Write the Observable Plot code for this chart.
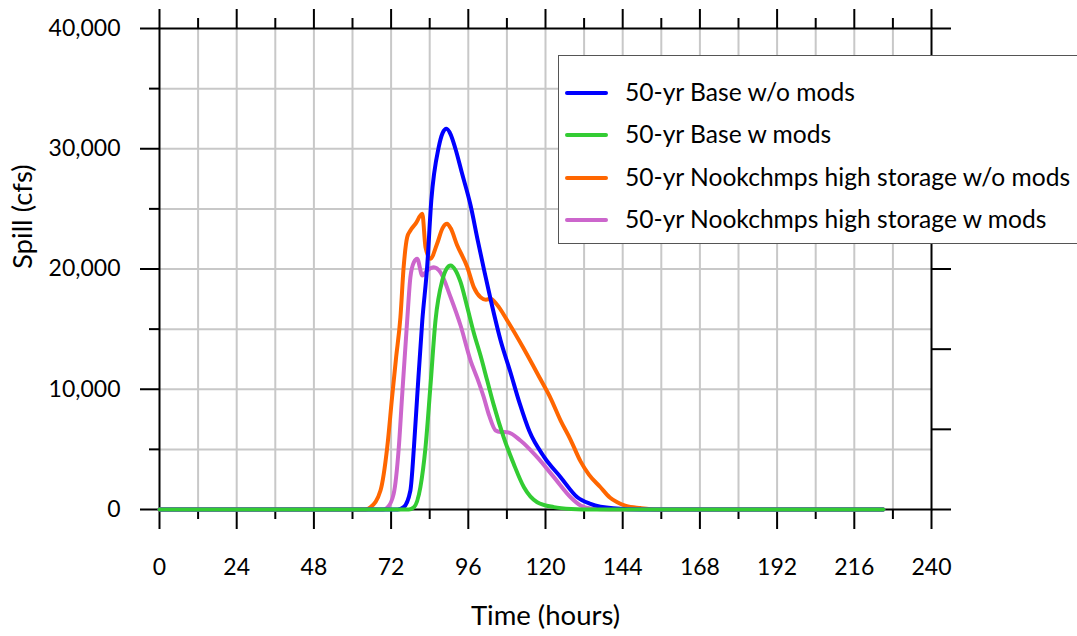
<!DOCTYPE html>
<html>
<head>
<meta charset="utf-8">
<script src="https://cdn.jsdelivr.net/npm/d3@7"></script>
<script src="https://cdn.jsdelivr.net/npm/@observablehq/plot@0.6"></script>
<style>
  body { margin: 0; background: #fff; overflow: hidden; font-family: Lato, sans-serif; }
  #wrap { position: relative; width: 1077px; height: 636px; overflow: hidden; }
  #legend { position: absolute; left: 558px; top: 55px; width: 560px; height: 189px;
            border: 1.5px solid #555; background: #fff; box-sizing: border-box; }
  .sw { position: absolute; left: 6px; width: 43px; height: 4px; border-radius: 2px; transform: translateY(-50%); }
  .lab { position: absolute; left: 66px; font-size: 24.6px; line-height: 1; white-space: nowrap; color: #000;
         transform: translateY(-54%); font-family: Lato, sans-serif; }
</style>
</head>
<body>
<div id="wrap"></div>
<script>
// ---- data (hours, spill cfs) ----
const seriesNames = [
  "50-yr Base w/o mods",
  "50-yr Base w mods",
  "50-yr Nookchmps high storage w/o mods",
  "50-yr Nookchmps high storage w mods"
];
const seriesColors = ["#0000ff", "#33cc33", "#ff6600", "#cc66cc"];

const blueT = [0,74,75.9,78,79.1,80.1,81.7,83.2,84.5,86.8,88,89.2,90.5,92,94,96.7,99,101,103,106,109,112,115,119.5,124.7,129.9,134,141,150,225];
const blueV = [0,0,190,1580,5180,9340,15720,20150,25700,30130,31300,31660,31200,30000,28000,25300,22300,19800,17400,14100,11500,8800,6500,4400,2690,1020,470,100,0,0];

const greenT = [0,77.5,79.1,81.1,82.7,84.2,85.8,87.9,89.2,90.5,92,93.6,95.7,97.7,99.8,101.9,103.9,107,110.1,113.3,117.4,122.6,128,135,225];
const greenV = [0,0,190,1850,5180,10170,15720,19040,20000,20290,19900,18900,16800,14700,12800,10700,8700,6000,3800,1850,610,200,50,0,0];

const orangeT = [0,64,65.6,68.7,70.8,72.3,73.5,74.9,75.9,77,78,79.6,81.7,82.7,84.2,86.3,88,89.4,90.5,92.5,95.7,97.7,99.8,101.5,102.9,105,108.1,113.3,118.4,121.6,124.7,127.8,130.9,133.5,137.1,140,142.3,145,149.5,155,225];
const orangeV = [0,0,190,1580,5180,9340,12500,16000,20150,22640,23200,23760,24590,21810,20850,22100,23400,23760,23400,22000,20150,18490,17650,17450,17520,17000,15720,13350,10850,9250,7400,5800,4000,2900,1850,1000,600,300,120,0,0];

const pinkT = [0,69.5,70.8,72.8,74.4,75.4,77,78,79.1,80.1,81.7,83.2,85.3,87.4,90.5,93.6,96.7,98.8,100.8,102.5,104.5,106,108.1,112.2,117.4,122.6,127.8,130.9,134,140,225];
const pinkV = [0,0,150,1300,5180,9340,15720,19320,20570,20850,19460,19880,20150,19700,17650,15300,12390,10900,9340,7800,6570,6450,6430,5740,4350,2690,1020,330,80,0,0];

// ---- ticks ----
const xMajor = [0,24,48,72,96,120,144,168,192,216,240];
const xMinor = [12,36,60,84,108,132,156,180,204,228];
const xGrid  = [12,24,36,48,60,72,84,96,108,120,132,144,156,168,180,192,204,216,228];
const yMajor = [0,10000,20000,30000,40000];
const yMinor = [5000,15000,25000,35000];
const yGrid  = [5000,10000,15000,20000,25000,30000,35000];
const yRight = [0,6666.67,13333.33,20000,26666.67,33333.33,40000];

const toRows = (T, V) => T.map((t, i) => ({t, v: V[i]}));
const blue = toRows(blueT, blueV), green = toRows(greenT, greenV),
      orange = toRows(orangeT, orangeV), pink = toRows(pinkT, pinkV);

const noText = () => "";
const lineOpts = (c) => ({x: "t", y: "v", stroke: c, strokeWidth: 4, curve: "monotone-x", strokeLinejoin: "round", strokeLinecap: "round"});

const chart = Plot.plot({
  width: 1077, height: 636,
  marginLeft: 159, marginRight: 146, marginTop: 28, marginBottom: 127,
  x: {domain: [0, 240]},
  y: {domain: [0, 40000]},
  style: {fontFamily: "Lato, sans-serif", fontSize: "23px", color: "#000", background: "transparent"},
  marks: [
    Plot.gridX(xGrid, {stroke: "#c8c8c8", strokeOpacity: 1, strokeWidth: 2}),
    Plot.gridY(yGrid, {stroke: "#c8c8c8", strokeOpacity: 1, strokeWidth: 2}),
    Plot.frame({stroke: "#000", strokeWidth: 2}),
    Plot.axisX(xMajor, {anchor: "bottom", tickSize: 20, tickPadding: 29, tickFormat: d => String(d), fontSize: 23, strokeWidth: 2, label: null}),
    Plot.axisX(xMinor, {anchor: "bottom", tickSize: 10, tickFormat: noText, strokeWidth: 2, label: null}),
    Plot.axisX(xMajor, {anchor: "top", tickSize: 20, tickFormat: noText, strokeWidth: 2, label: null}),
    Plot.axisX(xMinor, {anchor: "top", tickSize: 11, tickFormat: noText, strokeWidth: 2, label: null}),
    Plot.axisY(yMajor, {anchor: "left", tickSize: 19, tickPadding: 20, tickFormat: d3.format(","), fontSize: 23, strokeWidth: 2, label: null}),
    Plot.axisY(yMinor, {anchor: "left", tickSize: 10, tickFormat: noText, strokeWidth: 2, label: null}),
    Plot.axisY(yRight, {anchor: "right", tickSize: 19, tickFormat: noText, strokeWidth: 2, label: null}),
    Plot.line(orange, lineOpts(seriesColors[2])),
    Plot.line(pink, lineOpts(seriesColors[3])),
    Plot.line(blue, lineOpts(seriesColors[0])),
    Plot.line(green, lineOpts(seriesColors[1])),
    Plot.text(["Time (hours)"], {frameAnchor: "bottom", dy: 115, fontSize: 27.5, text: d => d}),
    Plot.text(["Spill (cfs)"], {frameAnchor: "left", dx: -136, rotate: -90, fontSize: 27.5, text: d => d})
  ]
});

const wrap = document.getElementById("wrap");
wrap.appendChild(chart);

// legend (HTML overlay, as in the original the box sits over the plot)
const legend = document.createElement("div");
legend.id = "legend";
const rowY = [37, 79, 122, 164];
seriesNames.forEach((name, i) => {
  const sw = document.createElement("div");
  sw.className = "sw";
  sw.style.top = rowY[i] + "px";
  sw.style.background = seriesColors[i];
  legend.appendChild(sw);
  const lab = document.createElement("div");
  lab.className = "lab";
  lab.style.top = rowY[i] + "px";
  lab.textContent = name;
  legend.appendChild(lab);
});
wrap.appendChild(legend);
</script>
</body>
</html>
